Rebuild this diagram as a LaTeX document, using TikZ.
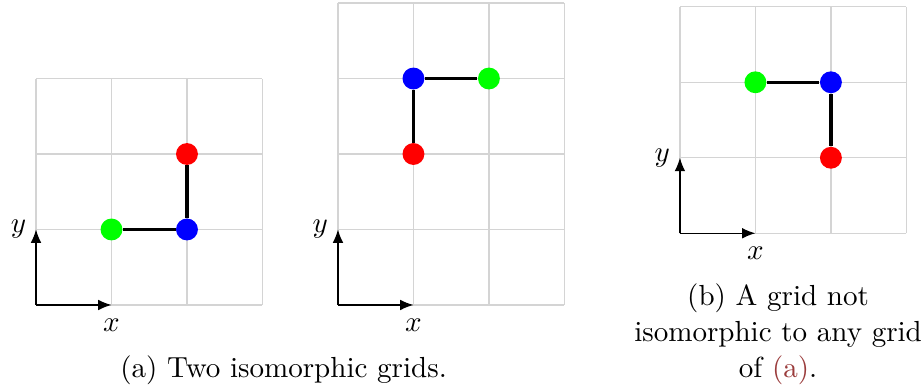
\documentclass[tikz,border=0pt]{standalone}
\usetikzlibrary{arrows.meta, positioning}
\definecolor{color_grid}{HTML}{D4D4D4}
\definecolor{color_text}{HTML}{1A1A1A}
\definecolor{color_link}{HTML}{9A3B3B}
\tikzset{
  grid_line/.style={draw=color_grid, line width=0.5pt},
  axis_arrow/.style={-{Latex[length=5pt, width=4pt]}, draw=black, line width=0.5pt},
  axis_label/.style={font=\fontsize{10.95}{13.6}\selectfont, inner sep=3.5pt},
  cell_dot/.style={circle, inner sep=0pt, minimum size=0.29cm},
  red_dot/.style={cell_dot, fill=red},
  green_dot/.style={cell_dot, fill=green},
  blue_dot/.style={cell_dot, fill=blue},
  cell_edge/.style={draw=black, line width=1.2pt},
  caption_text/.style={font=\fontsize{10.95}{13.6}\selectfont, align=center, inner sep=0pt},
}

\begin{document}
\begin{tikzpicture}
    \useasboundingbox (-0.477,-1.126) rectangle (11.75,4.04);
    % first grid of (a)
    \begin{scope}
      \draw[grid_line] (0,0) grid (3,3);
      \coordinate (o1) at (0,0);
      \coordinate (y1) at (0,1);
      \coordinate (x1) at (1,0);
      \draw[axis_arrow] (o1) -- (y1) node[axis_label, left] {$y$};
      \draw[axis_arrow] (o1) -- (x1) node[axis_label, below, yshift=-1.5pt] {$x$};
      \node[green_dot] (g1) at (1,1) {};
      \node[blue_dot] (b1) at (2,1) {};
      \node[red_dot] (r1) at (2,2) {};
      \draw[cell_edge] (g1) -- (b1);
      \draw[cell_edge] (b1) -- (r1);
    \end{scope}
    % second grid of (a)
    \begin{scope}[shift={(4,0)}]
      \draw[grid_line] (0,0) grid (3,4);
      \coordinate (o2) at (0,0);
      \coordinate (y2) at (0,1);
      \coordinate (x2) at (1,0);
      \draw[axis_arrow] (o2) -- (y2) node[axis_label, left] {$y$};
      \draw[axis_arrow] (o2) -- (x2) node[axis_label, below, yshift=-1.5pt] {$x$};
      \node[blue_dot] (b2) at (1,3) {};
      \node[green_dot] (g2) at (2,3) {};
      \node[red_dot] (r2) at (1,2) {};
      \draw[cell_edge] (b2) -- (g2);
      \draw[cell_edge] (b2) -- (r2);
    \end{scope}
    % grid of (b)
    \begin{scope}[shift={(8.53,0.95)}]
      \draw[grid_line] (0,0) grid (3,3);
      \coordinate (o3) at (0,0);
      \coordinate (y3) at (0,1);
      \coordinate (x3) at (1,0);
      \draw[axis_arrow] (o3) -- (y3) node[axis_label, left] {$y$};
      \draw[axis_arrow] (o3) -- (x3) node[axis_label, below, yshift=-1.5pt] {$x$};
      \node[green_dot] (g3) at (1,2) {};
      \node[blue_dot] (b3) at (2,2) {};
      \node[red_dot] (r3) at (2,1) {};
      \draw[cell_edge] (g3) -- (b3);
      \draw[cell_edge] (b3) -- (r3);
    \end{scope}
    \node[caption_text, anchor=base] (cap_a) at (3.28,-0.967) {(a) Two isomorphic grids.};
    \node[caption_text, anchor=base] (cap_b) at (9.83,-0.967)
      {(b) A grid not\\ isomorphic to any grid\\ of \textcolor{color_link}{(a)}.};
  \end{tikzpicture}
\end{document}
